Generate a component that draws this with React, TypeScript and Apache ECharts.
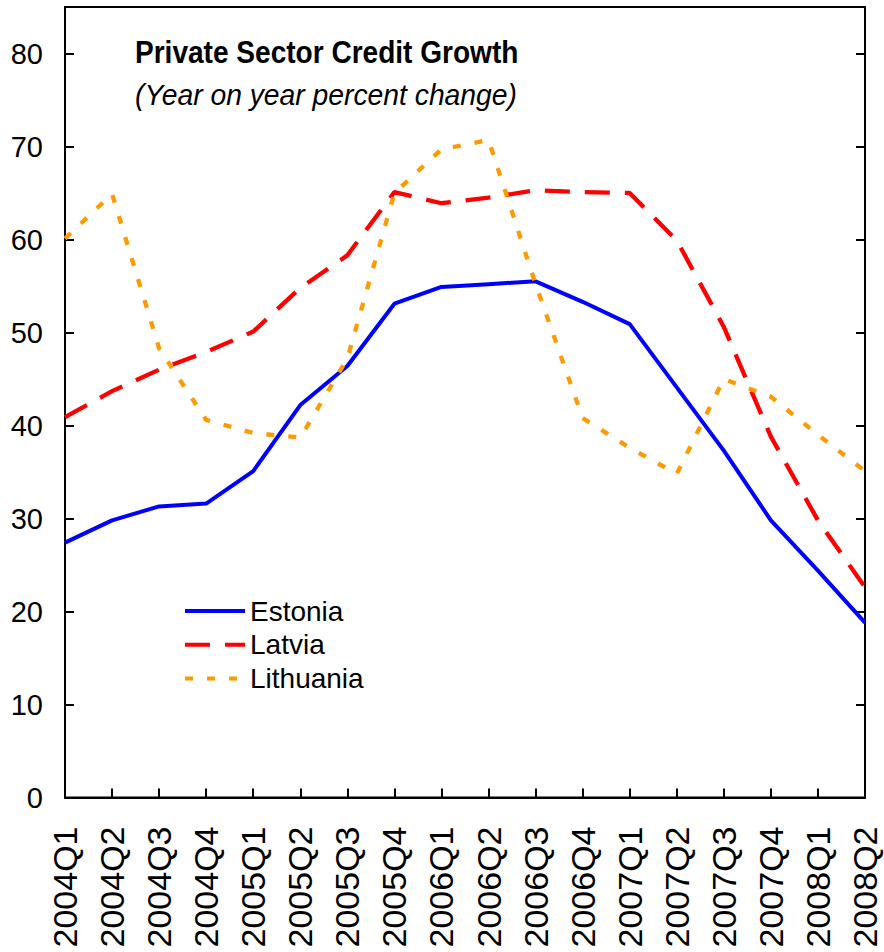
import React, { useEffect, useRef } from "react";
import * as echarts from "echarts";

const categories = [
  "2004Q1", "2004Q2", "2004Q3", "2004Q4",
  "2005Q1", "2005Q2", "2005Q3", "2005Q4",
  "2006Q1", "2006Q2", "2006Q3", "2006Q4",
  "2007Q1", "2007Q2", "2007Q3", "2007Q4",
  "2008Q1", "2008Q2",
];

const estonia = [27.4, 29.8, 31.3, 31.6, 35.1, 42.2, 46.4, 53.1, 54.9, 55.2, 55.5, 53.3, 50.9, 44.1, 37.3, 29.8, 24.4, 18.8];
const latvia = [40.9, 43.7, 46.0, 47.9, 50.1, 54.8, 58.3, 65.1, 63.9, 64.5, 65.3, 65.1, 65.0, 59.9, 50.6, 38.8, 29.8, 22.6];
const lithuania = [60.1, 64.9, 48.3, 40.6, 39.2, 38.7, 47.2, 65.0, 69.7, 70.7, 55.2, 40.8, 37.6, 34.8, 45.0, 43.1, 39.0, 35.1];

const yTicks = [0, 10, 20, 30, 40, 50, 60, 70, 80];

const FONT = "'Liberation Sans', Arial, sans-serif";

export default function App() {
  const ref = useRef<HTMLDivElement>(null);
  useEffect(() => {
    if (!ref.current) return;
    const chart = echarts.init(ref.current, undefined, { renderer: "svg" });
    chart.setOption({
      animation: false,
      backgroundColor: "#fff",
      grid: {
        left: 65,
        top: 7,
        width: 800,
        height: 790.5,
        show: true,
        borderColor: "#000",
        borderWidth: 2,
        containLabel: false,
      },
      graphic: [
        {
          type: "text",
          x: 135,
          y: 36,
          scaleX: 0.877,
          style: {
            text: "Private Sector Credit Growth",
            fill: "#000",
            font: `bold 32px ${FONT}`,
          },
        },
        {
          type: "text",
          x: 135,
          y: 80,
          scaleX: 0.943,
          style: {
            text: "(Year on year percent change)",
            fill: "#000",
            font: `italic 30px ${FONT}`,
          },
        },
      ],
      legend: {
        orient: "vertical",
        left: 183,
        top: 596,
        padding: 0,
        itemWidth: 60,
        itemHeight: 30,
        itemGap: 3.7,
        itemStyle: { opacity: 0 },
        lineStyle: { width: 4, type: "inherit" },
        textStyle: { fontFamily: FONT, fontSize: 28, color: "#000", lineHeight: 30 },
        data: ["Estonia", "Latvia", "Lithuania"],
      },
      xAxis: {
        type: "category",
        data: categories,
        boundaryGap: false,
        axisLine: { lineStyle: { color: "#000", width: 2 } },
        axisTick: { inside: true, length: 9, interval: 0, lineStyle: { color: "#000", width: 2 } },
        axisLabel: {
          interval: 0,
          rotate: 90,
          margin: 29,
          fontFamily: FONT,
          fontSize: 34,
          color: "#000",
        },
        splitLine: { show: false },
      },
      yAxis: [
        {
          type: "value",
          min: 0,
          max: 85,
          interval: 10,
          position: "left",
          axisLine: { show: true, lineStyle: { color: "#000", width: 2 } },
          axisTick: { show: true, inside: true, length: 9, lineStyle: { color: "#000", width: 2 } },
          axisLabel: {
            margin: 22,
            fontFamily: FONT,
            fontSize: 29,
            color: "#000",
            showMaxLabel: false,
            formatter: (v: number) => (yTicks.includes(v) ? String(v) : ""),
          },
          splitLine: { show: false },
        },
        {
          type: "value",
          min: 0,
          max: 85,
          interval: 10,
          position: "right",
          axisLine: { show: true, lineStyle: { color: "#000", width: 2 } },
          axisTick: { show: true, inside: true, length: 9, lineStyle: { color: "#000", width: 2 } },
          axisLabel: { show: false },
          splitLine: { show: false },
        },
      ],
      series: [
        {
          name: "Estonia",
          type: "line",
          data: estonia,
          symbol: "none",
          lineStyle: { color: "#0000ff", width: 4 },
          itemStyle: { color: "#0000ff" },
        },
        {
          name: "Latvia",
          type: "line",
          data: latvia,
          symbol: "none",
          lineStyle: { color: "#ff0000", width: 4.3, type: [25, 15] },
          itemStyle: { color: "#ff0000" },
        },
        {
          name: "Lithuania",
          type: "line",
          data: lithuania,
          symbol: "none",
          lineStyle: { color: "#ff9900", width: 4.3, type: [8, 14] },
          itemStyle: { color: "#ff9900" },
        },
      ],
    });
    return () => chart.dispose();
  }, []);
  return (
    <div
      ref={ref}
      style={{ position: "fixed", left: 0, top: 0, width: 884, height: 952 }}
    />
  );
}
